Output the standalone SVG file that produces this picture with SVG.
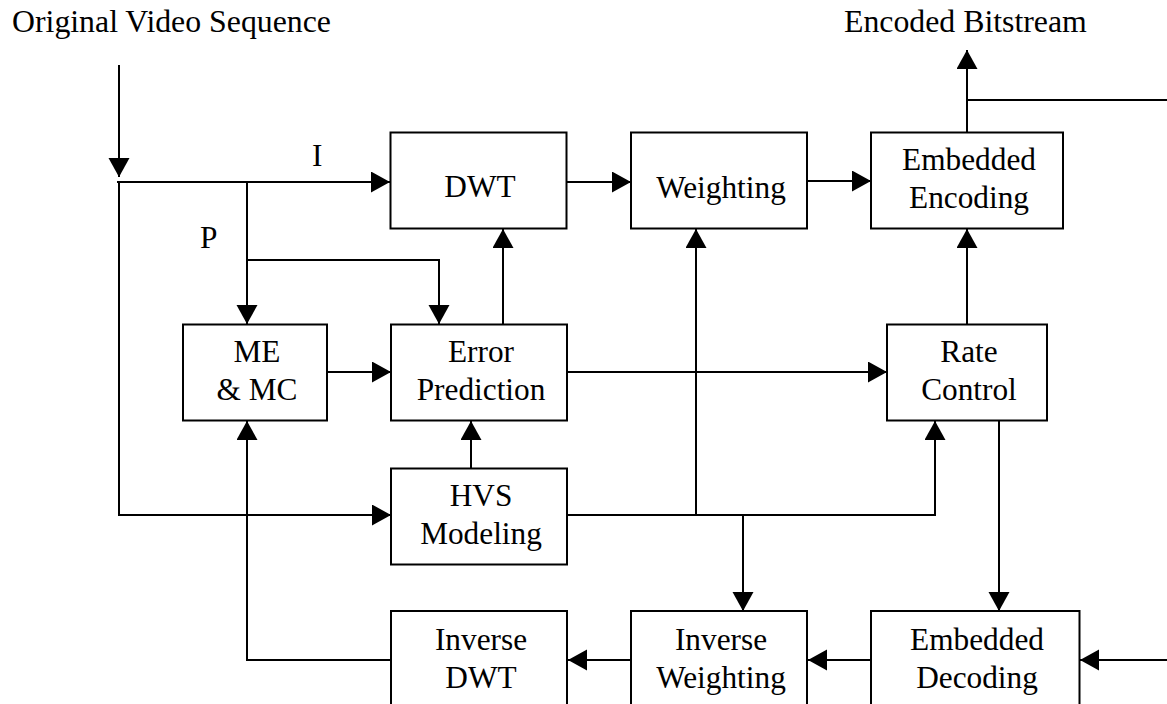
<svg xmlns="http://www.w3.org/2000/svg" width="1167" height="704" viewBox="0 0 1167 704">
<style>
.box{fill:#fff;stroke:#000;stroke-width:2}
.ln{fill:none;stroke:#000;stroke-width:2}
.ar{fill:none;stroke:#000;stroke-width:2;marker-end:url(#ah)}
text{font-family:"Liberation Serif","Times New Roman",serif;font-size:31.3px;fill:#000}
.h{font-size:31.8px}
.c{text-anchor:middle}
</style>
<defs>
<marker id="ah" markerUnits="userSpaceOnUse" markerWidth="20" markerHeight="22" refX="19" refY="10.5" orient="auto" viewBox="0 0 20 22">
<path d="M0,0 L19,10.5 L0,21 Z" fill="#000"/>
</marker>
</defs>
<rect width="1167" height="704" fill="#fff"/>
<text class="h" x="12" y="32">Original Video Sequence</text>
<text class="h" x="844" y="32">Encoded Bitstream</text>
<text x="312" y="166">I</text>
<text x="200" y="248">P</text>
<g id="connectors">
<line class="ar" x1="119" y1="65" x2="119" y2="177"/>
<line class="ln" x1="119" y1="182" x2="119" y2="516"/>
<line class="ar" x1="117" y1="182" x2="390" y2="182"/>
<polyline class="ar" points="247,181 247,324"/>
<polyline class="ar" points="247,260 439,260 439,324"/>
<line class="ar" x1="503" y1="324" x2="503" y2="229"/>
<line class="ar" x1="327" y1="372" x2="391" y2="372"/>
<line class="ar" x1="471" y1="469" x2="471" y2="421"/>
<line class="ar" x1="119" y1="515" x2="391" y2="515"/>
<polyline class="ar" points="391,660 247,660 247,421"/>
<line class="ar" x1="567" y1="182" x2="631" y2="182"/>
<line class="ar" x1="807" y1="181" x2="871" y2="181"/>
<line class="ar" x1="967" y1="132" x2="967" y2="50"/>
<line class="ln" x1="967" y1="100" x2="1167" y2="100"/>
<line class="ar" x1="967" y1="324" x2="967" y2="229"/>
<line class="ar" x1="696" y1="515" x2="696" y2="229"/>
<line class="ar" x1="567" y1="372" x2="887" y2="372"/>
<polyline class="ar" points="567,515 935,515 935,421"/>
<line class="ar" x1="743" y1="515" x2="743" y2="611"/>
<line class="ar" x1="999" y1="418" x2="999" y2="611"/>
<line class="ar" x1="1167" y1="660" x2="1080" y2="660"/>
<line class="ar" x1="871" y1="660" x2="808" y2="660"/>
<line class="ar" x1="631" y1="660" x2="568" y2="660"/>
</g>
<g id="dwt"><rect class="box" x="390.5" y="132.5" width="176" height="96"/><text class="c" x="480" y="197">DWT</text></g>
<g id="weighting"><rect class="box" x="631" y="132.5" width="176" height="96"/><text class="c" x="721" y="197.5">Weighting</text></g>
<g id="embedded-encoding"><rect class="box" x="871" y="132.5" width="192" height="96"/><text class="c" x="969" y="170">Embedded</text><text class="c" x="969" y="208">Encoding</text></g>
<g id="me-mc"><rect class="box" x="183" y="324.5" width="144" height="96"/><text class="c" x="257" y="362">ME</text><text class="c" x="257" y="400">&amp; MC</text></g>
<g id="error-prediction"><rect class="box" x="391" y="324.5" width="176" height="96"/><text class="c" x="481" y="362">Error</text><text class="c" x="481" y="400">Prediction</text></g>
<g id="rate-control"><rect class="box" x="887" y="324.5" width="160" height="96"/><text class="c" x="969" y="362">Rate</text><text class="c" x="969" y="400">Control</text></g>
<g id="hvs-modeling"><rect class="box" x="391" y="468.5" width="176" height="96"/><text class="c" x="481" y="506">HVS</text><text class="c" x="481" y="544">Modeling</text></g>
<g id="inverse-dwt"><rect class="box" x="391" y="611" width="176" height="100"/><text class="c" x="481" y="650">Inverse</text><text class="c" x="481" y="688">DWT</text></g>
<g id="inverse-weighting"><rect class="box" x="631" y="611" width="176" height="100"/><text class="c" x="721" y="650">Inverse</text><text class="c" x="721" y="688">Weighting</text></g>
<g id="embedded-decoding"><rect class="box" x="871" y="611" width="208.5" height="100"/><text class="c" x="977" y="650">Embedded</text><text class="c" x="977" y="688">Decoding</text></g>
</svg>
